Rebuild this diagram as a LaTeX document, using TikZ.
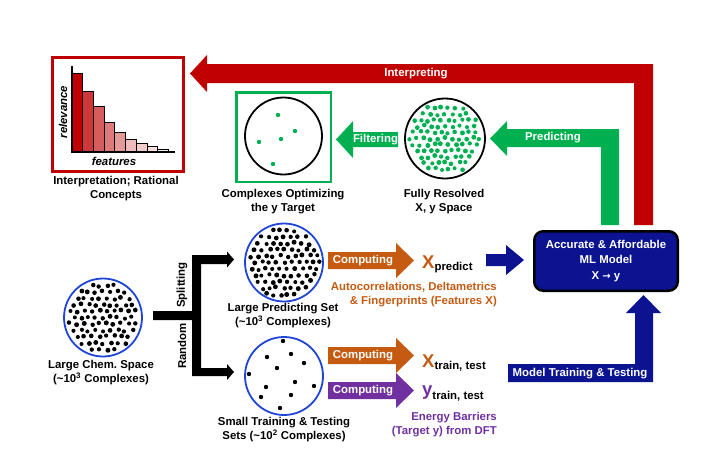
\documentclass[tikz,border=0pt]{standalone}
\usepackage{fontspec}
\setmainfont{Liberation Sans}
\newfontfamily\arrowfont{DejaVu Sans}
\frenchspacing
\definecolor{myred}{HTML}{C00000}
\definecolor{mygreen}{HTML}{00B050}
\definecolor{myorange}{HTML}{C55A11}
\definecolor{mypurple}{HTML}{7030A0}
\definecolor{mynavy}{HTML}{0B1390}
\definecolor{myblue}{HTML}{1F45D8}
\newcommand\mydotcloud[6]{%
  \pgfmathsetseed{#6}%
  \foreach \i in {-7,...,7}{%
    \foreach \j in {-8,...,8}{%
      \pgfmathsetmacro\dx{\i*#4+mod(abs(\j),2)*#4/2+1.3*rand}%
      \pgfmathsetmacro\dy{\j*#4*0.87+1.3*rand}%
      \pgfmathsetmacro\rr{2.25+0.25*rand}%
      \pgfmathtruncatemacro\ins{((\dx)*(\dx)+(\dy)*(\dy))<(#3*#3)}%
      \ifnum\ins=1 \fill[#5] (#1+\dx,#2+\dy) circle[radius=\rr pt];\fi
    }}%
}
\begin{document}
\begin{tikzpicture}[x=1pt,y=-1pt,
  lbl/.style={font=\bfseries\fontsize{11.4}{14}\selectfont, align=center, inner sep=0pt},
  wlbl/.style={lbl, text=white},
  chartlbl/.style={font=\bfseries\itshape\fontsize{11.4}{14}\selectfont, inner sep=0pt},
  ring/.style={circle, draw=#1, line width=1.8pt, minimum size=78pt, inner sep=0pt},
  bar/.style={draw=black, line width=0.8pt}]
\useasboundingbox (0,0) rectangle (720,450);

% ---------- block arrows ----------
\fill[myred] (653,225) -- (653,64) -- (207,64) -- (207,55) -- (190,73.5) -- (207,92) -- (207,83) -- (634,83) -- (634,225) -- cycle;
\node[wlbl] (tinterp) at (416,73.5) {Interpreting};

\fill[mygreen] (619,225) -- (619,129) -- (507,129) -- (507,121) -- (490,138.5) -- (507,156) -- (507,147) -- (601,147) -- (601,225) -- cycle;
\node[wlbl] (tpred) at (553,138) {Predicting};

\fill[mygreen] (398,132) -- (353,132) -- (353,121) -- (336,139.5) -- (353,158) -- (353,147) -- (398,147) -- cycle;
\node[wlbl] (tfilt) at (375.5,139.5) {Filtering};

\fill[myorange] (328,252) -- (396,252) -- (396,243) -- (414,260.5) -- (396,278) -- (396,269) -- (328,269) -- cycle;
\node[wlbl] (tcomp1) at (363,261) {Computing};
\fill[myorange] (328,347) -- (396,347) -- (396,338) -- (414,355.5) -- (396,373) -- (396,364) -- (328,364) -- cycle;
\node[wlbl] (tcomp2) at (363,356) {Computing};
\fill[mypurple] (328,382) -- (396,382) -- (396,373) -- (414,390.5) -- (396,408) -- (396,399) -- (328,399) -- cycle;
\node[wlbl] (tcomp3) at (363,391) {Computing};

\fill[mynavy] (486,254) -- (506,254) -- (506,245) -- (524,260) -- (506,275) -- (506,266) -- (486,266) -- cycle;
\fill[mynavy] (508,364) -- (635,364) -- (635,313) -- (626,313) -- (643.5,295) -- (661,313) -- (653,313) -- (653,382) -- (508,382) -- cycle;
\node[wlbl] (ttrain) at (580,373.5) {Model Training \& Testing};

\fill[black] (153,311) -- (192,311) -- (192,255) -- (227,255) -- (227,251.5) -- (234,259.5) -- (227,267.5) -- (227,264) -- (201,264) -- (201,368) -- (227,368) -- (227,364) -- (234,372) -- (227,380) -- (227,376) -- (192,376) -- (192,320) -- (153,320) -- cycle;
\node[lbl, rotate=90] (tsplit) at (182,285) {Splitting};
\node[lbl, rotate=90] (trand) at (182,346) {Random};

% ---------- model box ----------
\node[draw=black, line width=2.5pt, fill=mynavy, rounded corners=9pt, minimum width=143.5pt, minimum height=59.5pt,
      text=white, font=\bfseries\fontsize{11.4}{15.5}\selectfont, align=center, inner sep=0pt] (model) at (606,261)
      {Accurate \& Affordable\\ML Model\\X {\arrowfont\fontsize{10}{12}\selectfont →} y};

% ---------- interpretation box ----------
\node[draw=myred, line width=3pt, minimum width=131pt, minimum height=114pt, inner sep=0pt] (interp) at (118,114.5) {};
\foreach \k/\t/\c in {0/73/100, 1/91/78, 2/106/64, 3/122/52, 4/132/40, 5/139/27, 6/143/20, 7/146/13, 8/149/7}{
  \filldraw[bar, fill=myred!\c!white] (72+10.7*\k,\t) rectangle (72+10.7*\k+10.7,152);
}
\draw[line width=1.2pt] (72,66) -- (72,152) -- (175,152);
\node[chartlbl, rotate=90] (trel) at (63,112) {relevance};
\node[chartlbl] (tfeat) at (114,161) {features};
\node[lbl] (linterp) at (116,189) {Interpretation; Rational\\Concepts};

% ---------- filtered set ----------
\node[draw=mygreen, line width=2.5pt, minimum width=94.5pt, minimum height=89.5pt, inner sep=0pt] (optbox) at (283.5,137) {};
\node[ring=black, minimum size=77pt] (opt) at (283.5,136) {};
\foreach \p in {(278,115),(295,131),(259,142),(281,139),(273,164)}{
  \fill[mygreen] \p circle[radius=2.2pt];
}
\node[lbl] (lopt) at (283,201.5) {Complexes Optimizing\\the y Target};

% ---------- fully resolved ----------
\node[ring=black, minimum size=80pt] (full) at (445,138.5) {};
\mydotcloud{445}{138.5}{36}{7.0}{mygreen}{7}
\node[lbl] (lfull) at (444,201.5) {Fully Resolved\\X, y Space};

% ---------- large chem space ----------
\node[ring=myblue] (chem) at (103,317.5) {};
\mydotcloud{103}{317.5}{35}{7.3}{black}{11}
\node[lbl] (lchem) at (101,373) {Large Chem. Space\\(\textasciitilde10\textsuperscript{3} Complexes)};

% ---------- predicting set ----------
\node[ring=myblue] (pred) at (284,262.5) {};
\mydotcloud{284}{262.5}{35.5}{7.3}{black}{23}
\node[lbl] (lpred) at (283,316) {Large Predicting Set\\(\textasciitilde10\textsuperscript{3} Complexes)};

% ---------- training set ----------
\node[ring=myblue] (train) at (284,376) {};
\foreach \p in {(283,341),(267,357),(291,354),(304,363),(277,368),(249,374),(295,382),(314,386),(266,387),(291,395),(261,397),(280,408)}{
  \fill[black] \p circle[radius=2.2pt];
}
\node[lbl] (ltrain) at (284,430) {Small Training \& Testing\\Sets (\textasciitilde10\textsuperscript{2} Complexes)};

% ---------- features / targets ----------
\node[anchor=base west, inner sep=0pt] (xpred) at (422,268)
  {\textcolor{myorange}{\bfseries\fontsize{18.5}{20}\selectfont X}\raisebox{-2pt}{\bfseries\fontsize{11.4}{14}\selectfont predict}};
\node[lbl, anchor=east, align=right, text=myorange] (lfeat) at (497,295) {Autocorrelations, Deltametrics\\\& Fingerprints (Features X)};
\node[anchor=base west, inner sep=0pt] (xtrain) at (422,367)
  {\textcolor{myorange}{\bfseries\fontsize{18.5}{20}\selectfont X}\raisebox{-2pt}{\bfseries\fontsize{11.4}{14}\selectfont train, test}};
\node[anchor=base west, inner sep=0pt] (ytrain) at (422,395)
  {\textcolor{mypurple}{\bfseries\fontsize{18.5}{20}\selectfont y}\raisebox{-4pt}{\bfseries\fontsize{11.4}{14}\selectfont train, test}};
\node[lbl, anchor=east, align=right, text=mypurple] (ltarget) at (497,424.5) {Energy Barriers\\(Target y) from DFT};
\end{tikzpicture}
\end{document}
